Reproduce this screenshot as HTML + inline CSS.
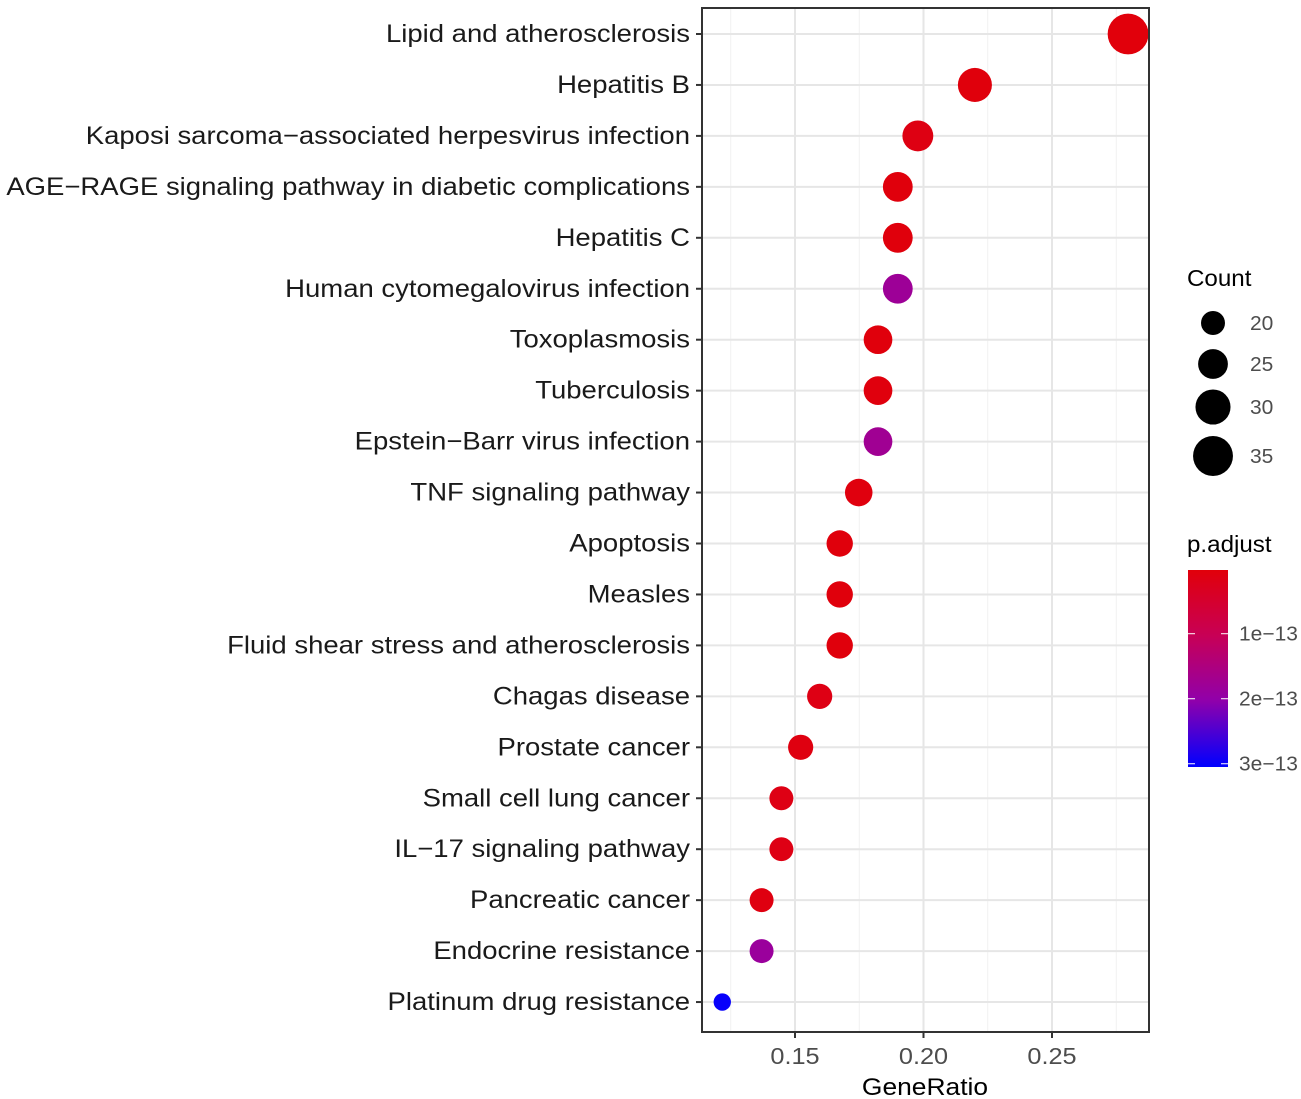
<!DOCTYPE html>
<html><head><meta charset="utf-8">
<style>
html,body{margin:0;padding:0;background:#fff;}
svg{display:block;font-family:"Liberation Sans",Arial,sans-serif;}
</style></head>
<body>
<svg id="chart" width="1301" height="1099" viewBox="0 0 1301 1099"></svg>
<script>
const categories = ["Lipid and atherosclerosis","Hepatitis B","Kaposi sarcoma\u2212associated herpesvirus infection","AGE\u2212RAGE signaling pathway in diabetic complications","Hepatitis C","Human cytomegalovirus infection","Toxoplasmosis","Tuberculosis","Epstein\u2212Barr virus infection","TNF signaling pathway","Apoptosis","Measles","Fluid shear stress and atherosclerosis","Chagas disease","Prostate cancer","Small cell lung cancer","IL\u221217 signaling pathway","Pancreatic cancer","Endocrine resistance","Platinum drug resistance"];
const geneRatio = [0.2796,0.2200,0.1978,0.1900,0.1900,0.1900,0.1823,0.1823,0.1823,0.1748,0.1674,0.1674,0.1674,0.1596,0.1522,0.1447,0.1447,0.1370,0.1370,0.1217];
const counts = [36,29,26,25,25,25,24,24,24,23,22,22,22,21,21,20,20,20,20,15];
const pAdjust = [0.03,0.04,0.12,0.05,0.04,1.8,0.05,0.06,1.75,0.07,0.05,0.05,0.05,0.15,0.1,0.15,0.15,0.1,1.85,3.0]; // x1e-13
const xTicks = [0.15,0.20,0.25];
const xMinor = [0.125,0.175,0.225,0.275];
const sizeBreaks = [20,25,30,35];
const colorTicks = [1,2,3];

const NS="http://www.w3.org/2000/svg";
const svg=document.getElementById('chart');
const L=702,R=1149,T=8,B=1032;
function xs(v){return 795+(v-0.15)*2570;}
function ys(i){return 34+i*50.95;}
function rs(c){return 5.52*Math.sqrt(c)-12.7;}
const pMin=0.02,pMax=3.05,cbTop=570,cbBot=767;
const stops=[[0,[225,0,10]],[0.33,[200,0,85]],[0.66,[145,0,170]],[1,[0,0,255]]];
function col(p){let t=Math.max(0,Math.min(1,(p-pMin)/(pMax-pMin)));
 for(let k=1;k<stops.length;k++){if(t<=stops[k][0]){const a=stops[k-1],b=stops[k];const f=(t-a[0])/(b[0]-a[0]);
 return 'rgb('+a[1].map((c,j)=>Math.round(c+(b[1][j]-c)*f)).join(',')+')';}}return 'rgb(0,0,255)';}
function el(tag,attrs,parent){const e=document.createElementNS(NS,tag);for(const k in attrs)e.setAttribute(k,attrs[k]);(parent||svg).appendChild(e);return e;}
function txt(x,y,s,size,anchor,fill,sx){const t=el('text',{x:0,y:0,'text-anchor':anchor,'font-size':size,fill:fill,transform:'translate('+x+','+y+') scale('+sx+',1)'});t.textContent=s;return t;}

const grid=el('g',{});


xMinor.forEach(v=>{el('line',{x1:xs(v),x2:xs(v),y1:T,y2:B,stroke:'#f1f1f1','stroke-width':1},grid);});
xTicks.forEach(v=>{el('line',{x1:xs(v),x2:xs(v),y1:T,y2:B,stroke:'#e6e6e6','stroke-width':2},grid);});
categories.forEach((c,i)=>{el('line',{x1:L,x2:R,y1:ys(i),y2:ys(i),stroke:'#e6e6e6','stroke-width':2},grid);});

const pts=el('g',{});


categories.forEach((c,i)=>{
 const d=el('circle',{cx:xs(geneRatio[i]),cy:ys(i),r:rs(counts[i]),fill:col(pAdjust[i])},pts);
 
 
});
const frame=el('rect',{x:L,y:T,width:R-L,height:B-T,fill:'none',stroke:'#333','stroke-width':2});



categories.forEach((c,i)=>{
 el('line',{x1:696,x2:L,y1:ys(i),y2:ys(i),stroke:'#333','stroke-width':2});
 const t=txt(690,ys(i)+8,c,25,'end','#1a1a1a',1.1);
 
 
});
xTicks.forEach(v=>{
 el('line',{x1:xs(v),x2:xs(v),y1:B,y2:B+6,stroke:'#333','stroke-width':2});
 const t=txt(xs(v),1064,v.toFixed(2),23,'middle','#4d4d4d',1.1);
 
 
});
const xt=txt(925,1095,'GeneRatio',24,'middle','#000',1.1);



const lt=txt(1187,286,'Count',23,'start','#000',1.05);


const ly=[323,364,407,456];
sizeBreaks.forEach((s,k)=>{
 const c=el('circle',{cx:1213,cy:ly[k],r:rs(s),fill:'#000'});
 
 
 const t=txt(1250,ly[k]+7,String(s),20,'start','#4d4d4d',1.05);
 
 
});

const ct=txt(1187,552,'p.adjust',23,'start','#000',1.05);


const defs=el('defs',{});
const lg=el('linearGradient',{id:'cb',x1:0,y1:0,x2:0,y2:1},defs);
stops.forEach(s=>el('stop',{offset:s[0],'stop-color':'rgb('+s[1].join(',')+')'},lg));
const cb=el('rect',{x:1188,y:cbTop,width:40,height:cbBot-cbTop,fill:'url(#cb)'});


colorTicks.forEach(v=>{
 const y=cbTop+(v-pMin)/(pMax-pMin)*(cbBot-cbTop);
 el('line',{x1:1188,x2:1195,y1:y,y2:y,stroke:'#fff','stroke-width':1});
 el('line',{x1:1221,x2:1228,y1:y,y2:y,stroke:'#fff','stroke-width':1});
 const t=txt(1239,y+7,v+'e\u221213',20,'start','#4d4d4d',1.05);
 
 
});
</script>
</body></html>
